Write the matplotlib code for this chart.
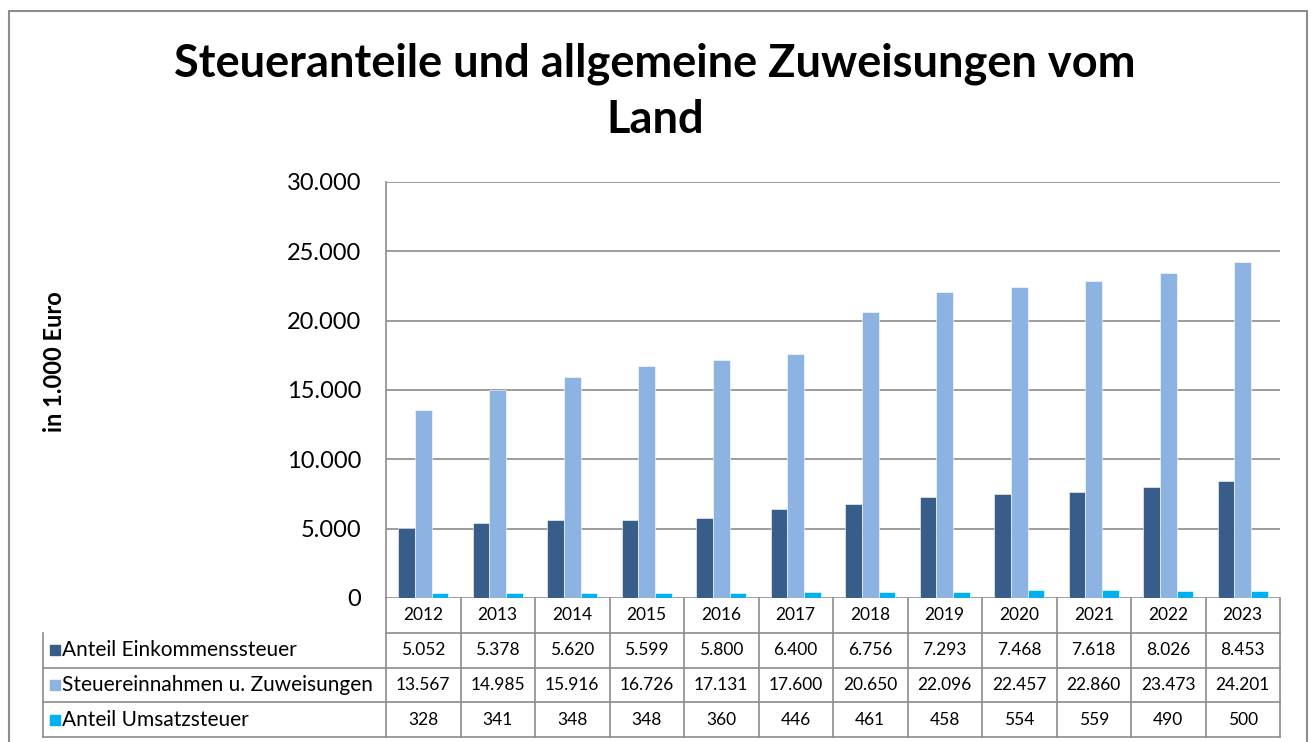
import matplotlib.pyplot as plt
import matplotlib.transforms as mtransforms
from matplotlib.patches import Rectangle
import numpy as np

plt.rcParams['font.family'] = ['Lato', 'DejaVu Sans']

# --- data --- #
years = ['2012', '2013', '2014', '2015', '2016', '2017',
         '2018', '2019', '2020', '2021', '2022', '2023']
einkommen = [5052, 5378, 5620, 5599, 5800, 6400, 6756, 7293, 7468, 7618, 8026, 8453]
steuer_zuw = [13567, 14985, 15916, 16726, 17131, 17600, 20650, 22096, 22457, 22860, 23473, 24201]
umsatz = [328, 341, 348, 348, 360, 446, 461, 458, 554, 559, 490, 500]
series_names = ['Anteil Einkommenssteuer', 'Steuereinnahmen u. Zuweisungen', 'Anteil Umsatzsteuer']
series_colors = ['#385D8A', '#8DB3E2', '#00B0F0']
y_ticks = [0, 5000, 10000, 15000, 20000, 25000, 30000]


def de_fmt(v):
    # german thousands separator
    return '{:,}'.format(int(v)).replace(',', '.')


W, H = 1311, 742
fig = plt.figure(figsize=(W / 100, H / 100), dpi=100)

# outer frame
fig.patches.append(Rectangle((9 / W, -0.1), (1307 - 9) / W, 1.1 - 11 / H,
                             transform=fig.transFigure, fill=False,
                             edgecolor='#8C8C8C', linewidth=1.5))

ax = fig.add_axes([386 / W, 1 - 598 / H, (1280 - 386) / W, (598 - 182) / H])

all_series = [einkommen, steuer_zuw, umsatz]
x = np.arange(len(years))
bw = 0.225
for i, vals in enumerate(all_series):
    ax.bar(x + (i - 1) * bw, vals, width=bw, color=series_colors[i],
           edgecolor='white', linewidth=0.4, zorder=3, label=series_names[i])

ax.set_xlim(-0.5, len(years) - 0.5)
ax.set_ylim(0, 30000)
ax.set_yticks(y_ticks)
ax.set_yticklabels([de_fmt(t) for t in y_ticks], fontsize=17)
ax.tick_params(axis='y', length=0, pad=18)
ax.set_xticks([])
ax.grid(axis='y', color='#8C8C8C', linewidth=1.2, zorder=0)
for s in ['top', 'right', 'bottom']:
    ax.spines[s].set_visible(False)
ax.spines['left'].set_color('#8C8C8C')
ax.spines['left'].set_linewidth(1.2)

# --- data table below the axes --- #
trans = mtransforms.blended_transform_factory(ax.transData, ax.transAxes)
row_h = 34.8 / 416
label_left = -0.5 - 343 / 74.5
n = len(years)
line_kw = dict(color='#8C8C8C', linewidth=1.2, transform=trans, clip_on=False)

# horizontal lines
ax.plot([-0.5, n - 0.5], [-row_h, -row_h], **line_kw)
for r in range(2, 5):
    ax.plot([label_left, n - 0.5], [-r * row_h, -r * row_h], **line_kw)
# vertical lines
for j in range(n + 1):
    ax.plot([j - 0.5, j - 0.5], [0, -4 * row_h], **line_kw)
ax.plot([label_left, label_left], [-row_h, -4 * row_h], **line_kw)

for j, yr in enumerate(years):
    ax.text(j, -0.5 * row_h, yr, transform=trans, ha='center', va='center', fontsize=12.5)

for i, vals in enumerate(all_series):
    yc = -(i + 1.5) * row_h
    ax.scatter([label_left + 0.16], [yc], marker='s', s=60, color=series_colors[i],
               transform=trans, clip_on=False)
    ax.text(label_left + 0.26, yc, series_names[i], transform=trans,
            ha='left', va='center', fontsize=15)
    for j, v in enumerate(vals):
        ax.text(j, yc, de_fmt(v), transform=trans, ha='center', va='center', fontsize=12.5)

fig.text(55 / W, 1 - 362 / H, 'in 1.000 Euro', rotation=90, ha='center', va='center',
         fontsize=17, fontweight='bold')
fig.text(655 / W, 1 - 92 / H, 'Steueranteile und allgemeine Zuweisungen vom\nLand',
         ha='center', va='center', fontsize=32.5, fontweight='bold', linespacing=1.4)

fig.savefig('out.png', dpi=100)
